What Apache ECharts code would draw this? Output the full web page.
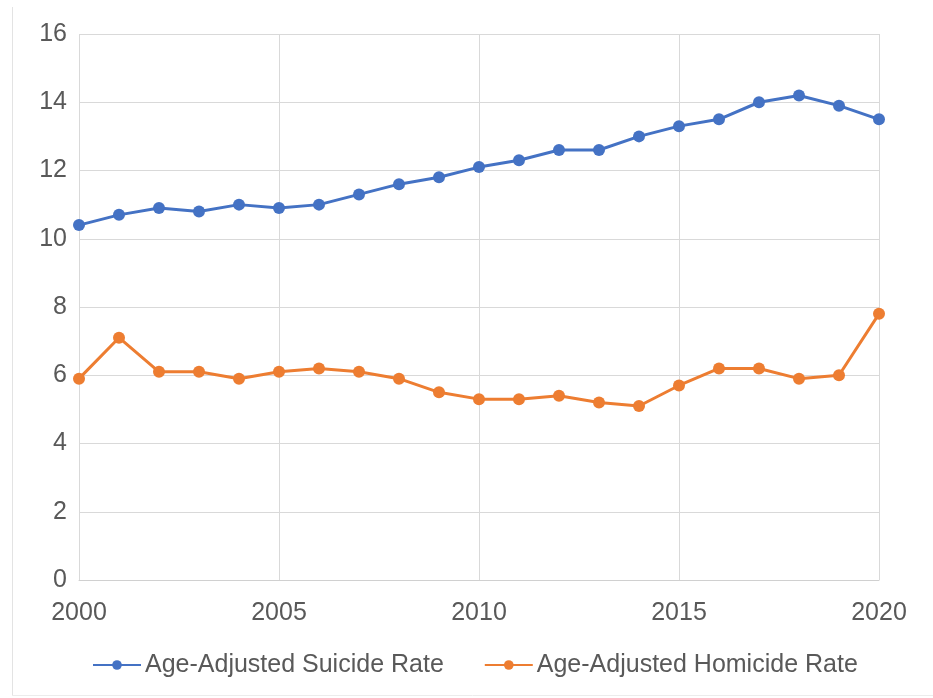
<!DOCTYPE html>
<html>
<head>
<meta charset="utf-8">
<script src="https://cdn.jsdelivr.net/npm/echarts@6/dist/echarts.min.js"></script>
<style>
  html, body { margin: 0; padding: 0; background: #fff; }
  #main { width: 933px; height: 698px; }
</style>
</head>
<body>
<div id="main"></div>
<script>
var years = [2000, 2001, 2002, 2003, 2004, 2005, 2006, 2007, 2008, 2009, 2010,
             2011, 2012, 2013, 2014, 2015, 2016, 2017, 2018, 2019, 2020];
var suicideRate = [10.4, 10.7, 10.9, 10.8, 11.0, 10.9, 11.0, 11.3, 11.6, 11.8, 12.1,
                   12.3, 12.6, 12.6, 13.0, 13.3, 13.5, 14.0, 14.2, 13.9, 13.5];
var homicideRate = [5.9, 7.1, 6.1, 6.1, 5.9, 6.1, 6.2, 6.1, 5.9, 5.5, 5.3,
                    5.3, 5.4, 5.2, 5.1, 5.7, 6.2, 6.2, 5.9, 6.0, 7.8];
var seriesNames = ['Age-Adjusted Suicide Rate', 'Age-Adjusted Homicide Rate'];
var colors = ['#4472c4', '#ed7d31'];

var textColor = '#595959';
var font = 'Liberation Sans, Arial, sans-serif';

function pairs(vals) {
    return years.map(function (y, i) { return [y, vals[i]]; });
}

var chart = echarts.init(document.getElementById('main'));
chart.setOption({
    animation: false,
    color: colors,
    grid: { left: 79, right: 54, top: 34, bottom: 118 },
    graphic: [
        // faint frame of the original picture (left and bottom edges)
        { type: 'line', shape: { x1: 12.5, y1: 7, x2: 12.5, y2: 695 }, style: { stroke: '#e3e3e3', lineWidth: 1 } },
        { type: 'line', shape: { x1: 12, y1: 695.5, x2: 933, y2: 695.5 }, style: { stroke: '#ececec', lineWidth: 1 } }
    ],
    legend: {
        top: 647,
        left: 87,
        itemWidth: 48,
        itemHeight: 12,
        itemGap: 40,
        textStyle: { color: textColor, fontSize: 25, fontFamily: font, lineHeight: 26, padding: [0, 0, 0, -1] },
        data: seriesNames
    },
    xAxis: {
        type: 'value',
        min: 2000,
        max: 2020,
        interval: 5,
        axisLine: { show: true, lineStyle: { color: '#d0d0d0', width: 1 } },
        axisTick: { show: false },
        splitLine: { show: true, lineStyle: { color: '#d9d9d9' } },
        axisLabel: {
            color: textColor, fontSize: 25, fontFamily: font, margin: 21,
            formatter: function (v) { return String(v); }
        }
    },
    yAxis: {
        type: 'value',
        min: 0,
        max: 16,
        interval: 2,
        axisLine: { show: false },
        axisTick: { show: false },
        splitLine: { show: true, lineStyle: { color: '#d9d9d9' } },
        axisLabel: { color: textColor, fontSize: 25, fontFamily: font, margin: 12 }
    },
    series: [
        {
            name: seriesNames[0],
            type: 'line',
            data: pairs(suicideRate),
            symbol: 'circle',
            symbolSize: 12,
            lineStyle: { width: 3 }
        },
        {
            name: seriesNames[1],
            type: 'line',
            data: pairs(homicideRate),
            symbol: 'circle',
            symbolSize: 12,
            lineStyle: { width: 3 }
        }
    ]
});
</script>
</body>
</html>
